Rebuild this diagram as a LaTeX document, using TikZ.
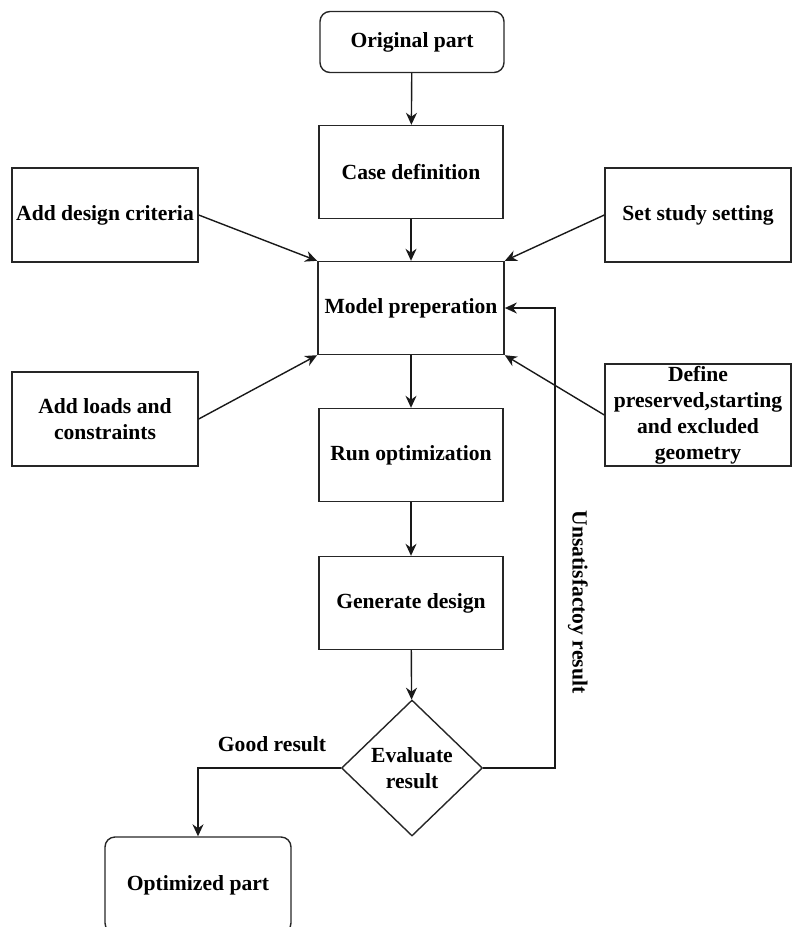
\documentclass[tikz,border=0pt]{standalone}
\usepackage{fontspec}
\setmainfont{Liberation Serif}
\usepackage{tikz}
\usetikzlibrary{shapes.geometric,arrows.meta}

\begin{document}
\begin{tikzpicture}[x=0.5pt,y=-0.5pt,
  font=\fontsize{10.8}{13}\selectfont\bfseries,
  line width=0.7pt,
  flow/.style={draw=black!90,-{Stealth[length=6pt,width=5.5pt]}},
  termbox/.style={draw=black!85,rectangle,rounded corners=5pt,minimum width=92pt,minimum height=30.5pt,align=center},
  procbox/.style={draw=black!85,rectangle,minimum width=92pt,minimum height=46.5pt,align=center},
  sidebox/.style={draw=black!85,rectangle,minimum width=93pt,minimum height=47pt,align=center,inner sep=1pt},
  decision/.style={draw=black!85,diamond,minimum width=70.5pt,minimum height=68pt,inner sep=0pt,align=center}]
\useasboundingbox (0,0) rectangle (792,927);
% main flow
\node[termbox] (orig) at (412,42) {Original part};
\node[procbox] (case) at (411,172) {Case definition};
\node[procbox] (model) at (411,308) {Model preperation};
\node[procbox] (run) at (411,455) {Run optimization};
\node[procbox] (gen) at (411,603) {Generate design};
\node[decision] (eval) at (412,768) {Evaluate\\result};
\node[termbox,minimum width=93pt,minimum height=48pt] (opt) at (198,885) {Optimized part};
% side inputs
\node[sidebox] (crit) at (105,215) {Add design criteria};
\node[sidebox] (study) at (698,215) {Set study setting};
\node[sidebox] (loads) at (105,419) {Add loads and\\constraints};
\node[sidebox,minimum height=51pt] (geom) at (698,415) {Define\\preserved,starting\\and excluded\\geometry};

\draw[flow] (orig) -- (case);
\draw[flow] (case) -- (model);
\draw[flow] (model) -- (run);
\draw[flow] (run) -- (gen);
\draw[flow] (gen) -- (eval);

\draw[flow] (crit.east) -- (model.north west);
\draw[flow] (study.west) -- (model.north east);
\draw[flow] (loads.east) -- (model.south west);
\draw[flow] (geom.west) -- (model.south east);

% decision branches
\draw[flow] (eval.east) -- (555,768) |- (model.east);
\draw[flow] (eval.west) -| (opt.north);
\node (good) at (272,744) {Good result};
\node[rotate=-90] (unsat) at (578,602) {Unsatisfactoy result};
\end{tikzpicture}
\end{document}
